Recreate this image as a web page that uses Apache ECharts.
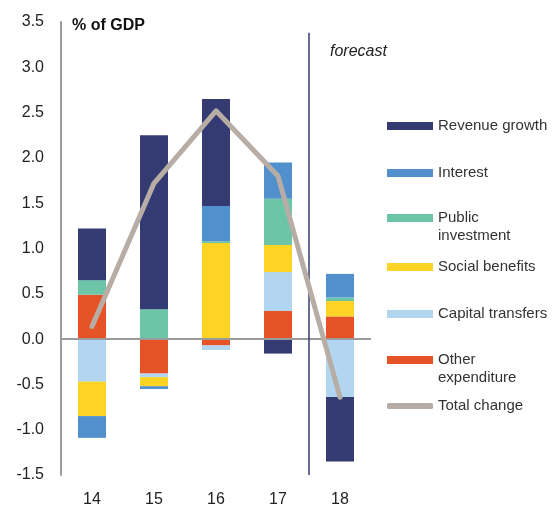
<!DOCTYPE html>
<html lang="en">
<head>
<meta charset="UTF-8">
<title>% of GDP</title>
<script src="https://cdn.jsdelivr.net/npm/echarts@6/dist/echarts.min.js"></script>
<style>
  html, body { margin: 0; padding: 0; background: #fff; }
  #main { width: 553px; height: 509px; }
</style>
</head>
<body>
<div id="main"></div>
<script>
// data
var years = ['14', '15', '16', '17', '18'];
var revenue = [0.57, 1.92, 1.18, -0.16, -0.71];
var interest = [-0.24, -0.03, 0.39, 0.40, 0.26];
var publicInv = [0.16, 0.33, 0.02, 0.51, 0.04];
var social = [-0.38, -0.10, 1.06, 0.30, 0.17];
var capital = [-0.47, -0.04, -0.05, 0.43, -0.64];
var other = [0.49, -0.38, -0.07, 0.31, 0.25];
var total = [0.14, 1.72, 2.52, 1.80, -0.64];
var yTicks = [-1.5, -1.0, -0.5, 0.0, 0.5, 1.0, 1.5, 2.0, 2.5, 3.0, 3.5];

var font = 'Liberation Sans, Arial, sans-serif';
var colors = {
  'Revenue growth': '#343b73',
  'Interest': '#5190cd',
  'Public\ninvestment': '#6cc5a7',
  'Social benefits': '#fdd424',
  'Capital transfers': '#b2d6f0',
  'Other\nexpenditure': '#e65327',
  'Total change': '#b8ada5'
};

// stacking order from the zero line outwards
var barData = [
  ['Other\nexpenditure', other],
  ['Capital transfers', capital],
  ['Social benefits', social],
  ['Public\ninvestment', publicInv],
  ['Interest', interest],
  ['Revenue growth', revenue]
];

var series = barData.map(function (d) {
  return {
    name: d[0],
    type: 'bar',
    stack: 'all',
    barWidth: 28,
    itemStyle: { color: colors[d[0]] },
    data: d[1]
  };
});
series[0].markLine = {
  silent: true,
  symbol: 'none',
  label: { show: false },
  lineStyle: { color: '#9b9b9b', width: 2, type: 'solid' },
  data: [{ yAxis: 0 }]
};
series.push({
  name: 'Total change',
  type: 'line',
  showSymbol: false,
  symbol: 'none',
  z: 5,
  itemStyle: { color: colors['Total change'] },
  lineStyle: { color: colors['Total change'], width: 5, cap: 'round', join: 'round' },
  data: total
});
// forecast divider on a hidden value axis
series.push({
  type: 'line',
  xAxisIndex: 1,
  data: [],
  markLine: {
    silent: true,
    symbol: 'none',
    label: { show: false },
    lineStyle: { color: '#343b73', width: 1.5, type: 'solid' },
    data: [[{ coord: [3.5, 3.38] }, { coord: [3.5, -1.5] }]]
  }
});

// legend, one per entry so the rows can sit where they do in the picture
var legendRows = [
  ['Revenue growth', 126, false],
  ['Interest', 173, false],
  ['Public\ninvestment', 218, true],
  ['Social benefits', 267, false],
  ['Capital transfers', 314, false],
  ['Other\nexpenditure', 360, true],
  ['Total change', 406, false]
];
var legends = legendRows.map(function (r) {
  var two = r[2];
  var isLine = r[0] === 'Total change';
  return {
    left: 387,
    top: two ? r[1] - 27 : r[1] - 9,
    padding: 0,
    orient: 'vertical',
    selectedMode: false,
    itemWidth: 46,
    itemHeight: isLine ? 6 : 8,
    itemGap: 5,
    icon: isLine ? 'roundRect' : 'rect',
    // blank first line keeps the icon level with the first text line
    formatter: function (name) { return two ? ' \n' + name : name; },
    textStyle: {
      fontFamily: font,
      fontSize: 15,
      color: '#333',
      lineHeight: 18
    },
    data: [r[0]]
  };
});

var chart = echarts.init(document.getElementById('main'));
chart.setOption({
  animation: false,
  grid: { left: 61, right: 182, top: 22, bottom: 34 },
  legend: legends,
  xAxis: [{
    type: 'category',
    data: years,
    axisLine: { show: false, onZero: false },
    axisTick: { show: false },
    axisLabel: { fontFamily: font, fontSize: 16, color: '#222', margin: 17 }
  }, {
    type: 'value',
    min: -0.5,
    max: 4.5,
    show: false
  }],
  yAxis: {
    type: 'value',
    min: yTicks[0],
    max: yTicks[yTicks.length - 1],
    interval: 0.5,
    splitLine: { show: false },
    axisTick: { show: false },
    axisLine: { show: true, onZero: false, lineStyle: { color: '#9b9b9b', width: 2 } },
    axisLabel: {
      fontFamily: font, fontSize: 16, color: '#222', margin: 17,
      formatter: function (v) { return v.toFixed(1); }
    }
  },
  graphic: [
    {
      type: 'text', left: 72, top: 18,
      style: { text: '% of GDP', font: 'bold 16px ' + font, fill: '#111' }
    },
    {
      type: 'text', left: 330, top: 44,
      style: { text: 'forecast', font: 'italic 16px ' + font, fill: '#222' }
    }
  ],
  series: series
});
</script>
</body>
</html>
